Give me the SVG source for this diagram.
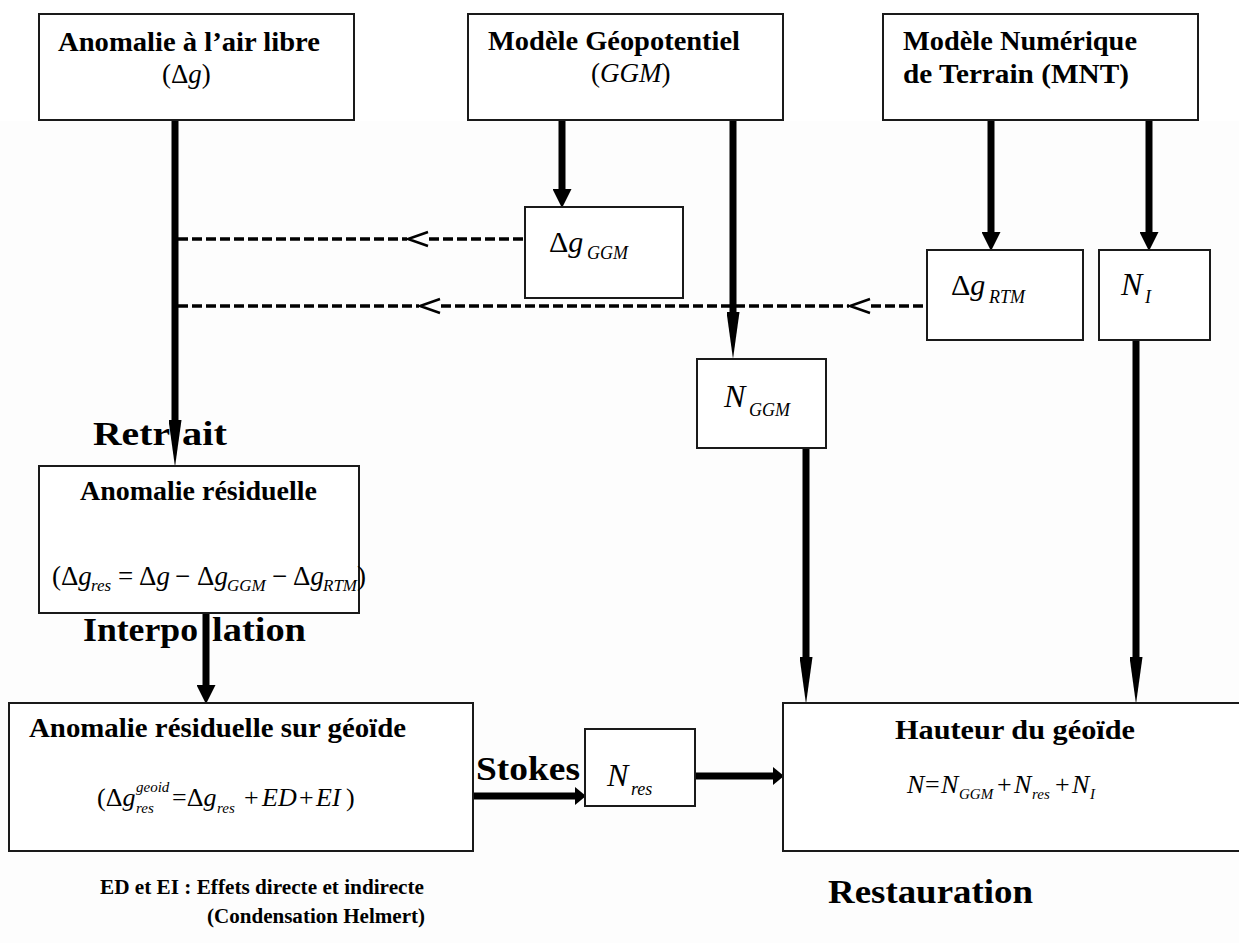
<svg xmlns="http://www.w3.org/2000/svg" xmlns:xlink="http://www.w3.org/1999/xlink" width="1239" height="943" viewBox="0 0 1239 943">
  <style>
    .box { fill: #ffffff; stroke: #1a1a1a; stroke-width: 2; }
    .shaft { stroke: #000; stroke-width: 7; fill: none; }
    .dash { stroke: #000; stroke-width: 3.5; stroke-dasharray: 10 4; fill: none; }
    .chev { stroke: #000; stroke-width: 2.5; fill: none; }
    .title { font-family: "Liberation Serif", "Times New Roman", serif; font-weight: bold; font-size: 28px; fill: #000; }
    .label { font-family: "Liberation Serif", "Times New Roman", serif; font-weight: bold; font-size: 34px; fill: #000; }
    .note { font-family: "Liberation Serif", "Times New Roman", serif; font-weight: bold; font-size: 20px; fill: #000; }
    .math { font-family: "Liberation Serif", "Times New Roman", serif; font-size: 26px; fill: #000; }
    .m27 { font-size: 27px; }
    .big { font-size: 30px; }
    .sym { font-size: 32px; }
    .it { font-style: italic; }
    .sub { font-size: 16px; font-style: italic; }
    .sub17 { font-size: 17px; font-style: italic; }
    .subbig { font-size: 18px; font-style: italic; }
  </style>
  <defs>
    <!-- short, wide head -->
    <marker id="headA" markerUnits="userSpaceOnUse" viewBox="0 -9.5 19 19" refX="0" refY="0" markerWidth="19" markerHeight="19" orient="auto">
      <path d="M0,-9.5 L19,0 L0,9.5 z" fill="#000"/>
    </marker>
    <!-- long, narrow head -->
    <marker id="headB" markerUnits="userSpaceOnUse" viewBox="0 -6.5 47 13" refX="0" refY="0" markerWidth="47" markerHeight="13" orient="auto">
      <path d="M0,-6.5 L47,0 L0,6.5 z" fill="#000"/>
    </marker>
    <!-- stubby head on horizontal shafts -->
    <marker id="headC" markerUnits="userSpaceOnUse" viewBox="0 -9 11 18" refX="0" refY="0" markerWidth="11" markerHeight="18" orient="auto">
      <path d="M0,-9 L11,0 L0,9 z" fill="#000"/>
    </marker>
    <path id="chevron" class="chev" d="M20,-7 L0,0 L20,7"/>
  </defs>

  <rect x="0" y="0" width="1239" height="943" fill="#ffffff"/>
  <rect x="0" y="121" width="1239" height="822" fill="#fdfdfd"/>

  <!-- connectors -->
  <g id="connectors">
    <line class="shaft" x1="175" y1="120" x2="175" y2="420" marker-end="url(#headB)"/>
    <line class="shaft" x1="562" y1="120" x2="562" y2="189" marker-end="url(#headA)"/>
    <line class="shaft" x1="733" y1="120" x2="733" y2="312" marker-end="url(#headB)"/>
    <line class="shaft" x1="991" y1="120" x2="991" y2="232" marker-end="url(#headA)"/>
    <line class="shaft" x1="1149" y1="120" x2="1149" y2="232" marker-end="url(#headA)"/>
    <line class="shaft" x1="806" y1="448" x2="806" y2="657" marker-end="url(#headB)"/>
    <line class="shaft" x1="1136" y1="340" x2="1136" y2="657" marker-end="url(#headB)"/>
    <line class="shaft" x1="206" y1="613" x2="206" y2="685" marker-end="url(#headA)"/>
    <line class="shaft" x1="473" y1="796" x2="575" y2="796" marker-end="url(#headC)"/>
    <line class="shaft" x1="695" y1="776" x2="773" y2="776" marker-end="url(#headC)"/>

    <!-- dashed returns toward the left trunk -->
    <line class="dash" x1="178" y1="239" x2="407" y2="239"/>
    <use xlink:href="#chevron" x="408" y="239"/>
    <line class="dash" x1="429" y1="239" x2="525" y2="239"/>
    <line class="dash" x1="178" y1="306" x2="419" y2="306"/>
    <use xlink:href="#chevron" x="420" y="306"/>
    <line class="dash" x1="441" y1="306" x2="849" y2="306"/>
    <use xlink:href="#chevron" x="850" y="306"/>
    <line class="dash" x1="871" y1="306" x2="927" y2="306"/>
  </g>

  <g id="air-libre">
    <rect class="box" x="39" y="14" width="315" height="106"/>
    <text class="title" x="58" y="51" textLength="262" lengthAdjust="spacingAndGlyphs">Anomalie à l’air libre</text>
    <text class="math m27" x="162" y="83">(Δ<tspan class="it">g</tspan>)</text>
  </g>

  <g id="geopotentiel">
    <rect class="box" x="468" y="14" width="315" height="106"/>
    <text class="title" x="488" y="50" textLength="252" lengthAdjust="spacingAndGlyphs">Modèle Géopotentiel</text>
    <text class="math m27" x="591" y="82">(<tspan class="it">GGM</tspan>)</text>
  </g>

  <g id="mnt">
    <rect class="box" x="883" y="14" width="315" height="106"/>
    <text class="title" x="903" y="50" textLength="234" lengthAdjust="spacingAndGlyphs">Modèle Numérique</text>
    <text class="title" x="903" y="83" textLength="226" lengthAdjust="spacingAndGlyphs">de Terrain (MNT)</text>
  </g>

  <g id="dg-ggm">
    <rect class="box" x="525" y="207" width="158" height="91"/>
    <text class="math big" x="549" y="252">Δ<tspan class="it">g</tspan><tspan class="subbig" x="587" y="259">GGM</tspan></text>
  </g>

  <g id="dg-rtm">
    <rect class="box" x="927" y="250" width="156" height="90"/>
    <text class="math big" x="951" y="295">Δ<tspan class="it">g</tspan><tspan class="subbig" x="989" y="303">RTM</tspan></text>
  </g>

  <g id="n-i">
    <rect class="box" x="1099" y="250" width="111" height="90"/>
    <text class="math sym" x="1121" y="295"><tspan class="it">N</tspan><tspan class="subbig" x="1145" y="303">I</tspan></text>
  </g>

  <g id="n-ggm">
    <rect class="box" x="697" y="359" width="129" height="89"/>
    <text class="math sym" x="724" y="407"><tspan class="it">N</tspan><tspan class="subbig" x="749" y="416">GGM</tspan></text>
  </g>

  <g id="residuelle">
    <rect class="box" x="39" y="466" width="320" height="147"/>
    <text class="title" x="80" y="500" textLength="237" lengthAdjust="spacingAndGlyphs">Anomalie résiduelle</text>
    <text class="math m27">
      <tspan x="52" y="585">(Δ</tspan><tspan class="it">g</tspan><tspan class="sub17" x="91" y="591">res</tspan>
      <tspan x="118" y="585">=</tspan>
      <tspan x="139" y="585">Δ</tspan><tspan class="it">g</tspan>
      <tspan x="175" y="585">−</tspan>
      <tspan x="197" y="585">Δ</tspan><tspan class="it">g</tspan><tspan class="sub17" x="227" y="591">GGM</tspan>
      <tspan x="272" y="585">−</tspan>
      <tspan x="293" y="585">Δ</tspan><tspan class="it">g</tspan><tspan class="sub17" x="323" y="591">RTM</tspan>
      <tspan x="357" y="585">)</tspan>
    </text>
  </g>

  <g id="geoide">
    <rect class="box" x="9" y="703" width="464" height="148"/>
    <text class="title" x="29" y="737" textLength="377" lengthAdjust="spacingAndGlyphs">Anomalie résiduelle sur géoïde</text>
    <text class="math">
      <tspan x="97" y="806">(Δ</tspan><tspan class="it">g</tspan><tspan class="sub" x="136" y="792" style="font-size:15px">geoid</tspan><tspan class="sub" x="136" y="813" style="font-size:15px">res</tspan>
      <tspan x="172" y="806">=Δ</tspan><tspan class="it">g</tspan><tspan class="sub" x="217" y="813" style="font-size:15px">res</tspan>
      <tspan x="244" y="806">+</tspan><tspan class="it" x="262" y="806">ED</tspan>
      <tspan x="299" y="806">+</tspan><tspan class="it" x="316" y="806">EI</tspan>
      <tspan x="346" y="806">)</tspan>
    </text>
  </g>

  <g id="n-res">
    <rect class="box" x="585" y="729" width="110" height="77"/>
    <text class="math sym" x="607" y="786"><tspan class="it">N</tspan><tspan class="subbig" x="631" y="795">res</tspan></text>
  </g>

  <g id="hauteur">
    <rect class="box" x="783" y="703" width="470" height="148"/>
    <text class="title" x="895" y="739" textLength="240" lengthAdjust="spacingAndGlyphs">Hauteur du géoïde</text>
    <text class="math">
      <tspan class="it" x="907" y="793">N</tspan><tspan x="925" y="793">=</tspan><tspan class="it" x="941" y="793">N</tspan><tspan class="sub" x="959" y="799" style="font-size:15px">GGM</tspan>
      <tspan x="997" y="793">+</tspan><tspan class="it" x="1014" y="793">N</tspan><tspan class="sub" x="1032" y="799" style="font-size:15px">res</tspan>
      <tspan x="1055" y="793">+</tspan><tspan class="it" x="1072" y="793">N</tspan><tspan class="sub" x="1090" y="799" style="font-size:15px">I</tspan>
    </text>
  </g>

  <g id="labels">
    <text class="label" y="445"><tspan x="93" textLength="77" lengthAdjust="spacingAndGlyphs">Retr</tspan><tspan x="182" textLength="45" lengthAdjust="spacingAndGlyphs">ait</tspan></text>
    <text class="label" y="641"><tspan x="83" textLength="115" lengthAdjust="spacingAndGlyphs">Interpo</tspan><tspan x="212" textLength="94" lengthAdjust="spacingAndGlyphs">lation</tspan></text>
    <text class="label" x="476" y="780" textLength="104" lengthAdjust="spacingAndGlyphs">Stokes</text>
    <text class="label" x="828" y="903" textLength="205" lengthAdjust="spacingAndGlyphs">Restauration</text>
    <text class="note" x="100" y="894" textLength="324" lengthAdjust="spacingAndGlyphs">ED et EI : Effets directe et indirecte</text>
    <text class="note" x="207" y="923" textLength="218" lengthAdjust="spacingAndGlyphs">(Condensation Helmert)</text>
  </g>
</svg>
